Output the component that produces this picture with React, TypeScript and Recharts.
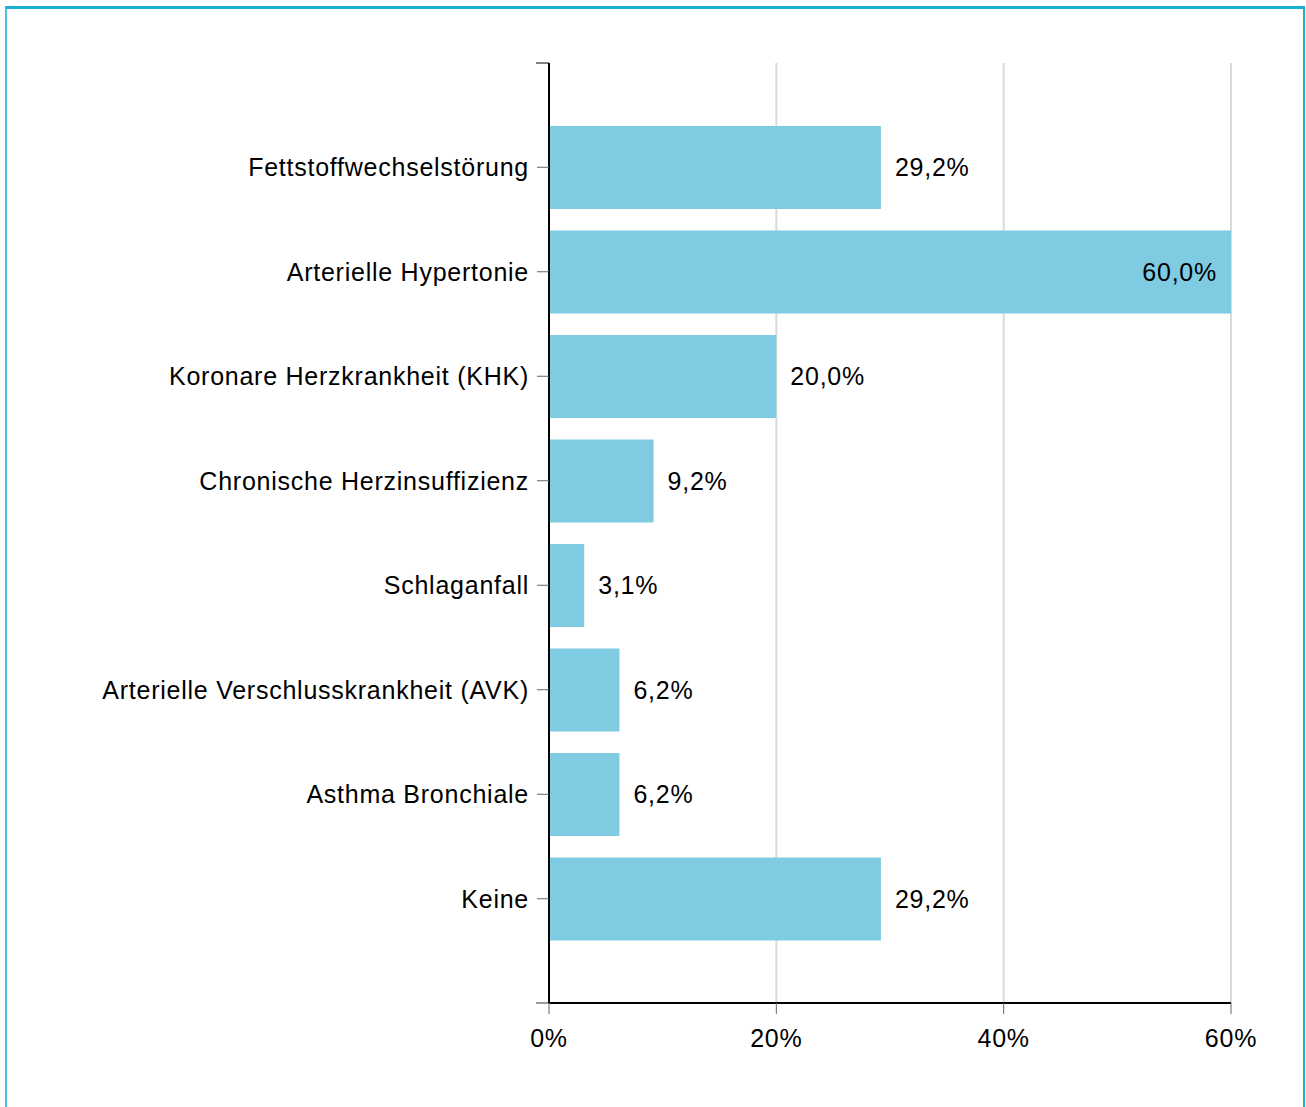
import React from 'react';
import * as Recharts from 'recharts';
import { BarChart, Bar, XAxis, YAxis, CartesianGrid, LabelList } from 'recharts';

const categories = [
  'Fettstoffwechselstörung',
  'Arterielle Hypertonie',
  'Koronare Herzkrankheit (KHK)',
  'Chronische Herzinsuffizienz',
  'Schlaganfall',
  'Arterielle Verschlusskrankheit (AVK)',
  'Asthma Bronchiale',
  'Keine',
];
const shares = [29.2, 60.0, 20.0, 9.2, 3.1, 6.2, 6.2, 29.2];
const xTicks = [0, 20, 40, 60];

const data = categories.map((name, i) => ({ name, value: shares[i] }));

const FONT = '"Liberation Sans", Arial, sans-serif';
const FONT_SIZE = 25;
const SPACING = 0.75;
const BAR_COLOR = '#7fcbe2';

const fmt = (v: number) => v.toFixed(1).replace('.', ',') + '%';

// value label: outside on the right, inside for the long bar
const ValueLabel = (props: any) => {
  const { x, y, width, height, value } = props;
  const inside = value >= 50;
  const tx = inside ? x + width - 14 : x + width + 14;
  return (
    <text
      x={tx}
      y={y + height / 2}
      dy="0.35em"
      textAnchor={inside ? 'end' : 'start'}
      fontSize={FONT_SIZE}
      fontFamily={FONT}
      letterSpacing={SPACING}
      fill="#000"
    >
      {fmt(value)}
    </text>
  );
};

// small ticks at both ends of the category axis
const EdgeTicks = () => {
  const hook = (Recharts as any).usePlotArea;
  const area = hook ? hook() : null;
  if (!area) return null;
  return (
    <g>
      <line x1={area.x - 13} x2={area.x} y1={area.y} y2={area.y} stroke="#555" strokeWidth={1.5} />
      <line x1={area.x - 13} x2={area.x} y1={area.y + area.height} y2={area.y + area.height} stroke="#777" strokeWidth={1.5} />
    </g>
  );
};

const tickStyle = { fill: '#000', fontSize: FONT_SIZE, fontFamily: FONT, letterSpacing: SPACING };

export default function App() {
  return (
    <div style={{ position: 'absolute', left: 0, top: 0, width: 1306, height: 1107, background: '#fff', overflow: 'hidden' }}>
      <div
        style={{
          position: 'absolute',
          left: 5,
          top: 6,
          width: 1296,
          height: 1120,
          borderTop: '3px solid #1aafd6',
          borderLeft: '2px solid #4cc1e3',
          borderRight: '2px solid #1aafd6',
        }}
      />
      <div style={{ position: 'absolute', left: 0, top: 0 }}>
        <BarChart
          width={1306}
          height={1107}
          data={data}
          layout="vertical"
          margin={{ top: 63, right: 75, bottom: 54, left: 0 }}
        >
          <CartesianGrid horizontal={false} stroke="#dadada" strokeWidth={2} />
          <XAxis
            type="number"
            domain={[0, 60]}
            ticks={xTicks}
            tickFormatter={(v: number) => v + '%'}
            height={50}
            tickSize={11}
            tickMargin={15}
            axisLine={{ stroke: '#000', strokeWidth: 2 }}
            tickLine={{ stroke: '#666' }}
            tick={tickStyle}
          />
          <YAxis
            type="category"
            dataKey="name"
            width={549}
            padding={{ top: 52, bottom: 52 }}
            tickSize={12}
            tickMargin={8}
            interval={0}
            axisLine={{ stroke: '#000', strokeWidth: 2 }}
            tickLine={{ stroke: '#666' }}
            tick={tickStyle}
          />
          <Bar dataKey="value" fill={BAR_COLOR} barSize={83} isAnimationActive={false}>
            <LabelList dataKey="value" content={ValueLabel} />
          </Bar>
          <EdgeTicks />
        </BarChart>
      </div>
    </div>
  );
}
